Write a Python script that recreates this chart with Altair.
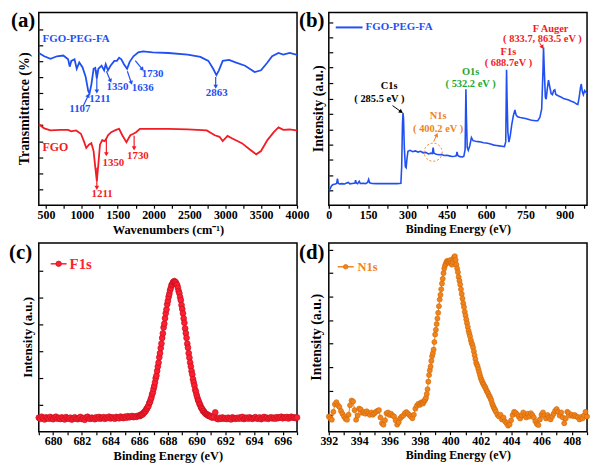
import altair as alt
import pandas as pd

FONT = "Liberation Serif"
BLUE = "#2150f2"
RED_A = "#f21c24"
RED_C = "#ff1f30"
RED_C_EDGE = "#c0101e"
ORANGE = "#f0841a"
ORANGE_EDGE = "#cf660a"
GREEN = "#22a832"

W_L, W_R = 260, 260
H_T, H_B = 194, 190

# ---------------- (a) FTIR ----------------
a_blue_x = [400, 476, 564, 653, 742, 809, 831, 853, 898, 929,
            964, 1009, 1053, 1089, 1107, 1133, 1164, 1187, 1209, 1231,
            1276, 1311, 1333, 1364, 1400, 1453, 1489, 1520, 1551, 1587,
            1631, 1667, 1720, 1787, 1853, 1987, 2209, 2476, 2653, 2764,
            2831, 2876, 2911, 2964, 3053, 3142, 3276, 3409, 3498, 3587,
            3653, 3742, 3809, 3898, 3987, 4000]
a_blue_y = [79.0, 77.3, 76.0, 77.3, 77.7, 75.7, 71.9, 74.9, 75.7, 70.8,
            74.1, 71.6, 66.7, 59.3, 58.0, 62.6, 70.8, 71.3, 65.8, 70.8,
            72.4, 70.0, 73.2, 70.0, 72.4, 74.9, 74.9, 76.5, 75.7, 73.2,
            70.8, 74.4, 77.3, 79.3, 79.8, 79.3, 79.0, 78.2, 77.0, 74.9,
            70.8, 67.5, 70.0, 74.9, 75.4, 74.1, 72.4, 69.1, 70.0, 74.1,
            77.3, 79.0, 78.2, 79.0, 78.2, 78.3]
a_red_x = [400, 476, 564, 698, 809, 853, 920, 987, 1031, 1062,
           1098, 1133, 1164, 1187, 1209, 1231, 1253, 1284, 1320, 1342,
           1364, 1409, 1476, 1520, 1564, 1622, 1676, 1720, 1756, 1809,
           1942, 2209, 2476, 2742, 2853, 2920, 2964, 3031, 3098, 3231,
           3342, 3431, 3498, 3587, 3676, 3742, 3809, 3898, 3987, 4000]
a_red_y = [42.0, 39.9, 38.8, 39.1, 39.1, 38.3, 38.8, 37.1, 33.0, 29.7,
           31.4, 32.2, 28.1, 19.9, 12.5, 21.5, 31.4, 33.8, 33.3, 34.6,
           36.3, 37.9, 39.1, 39.6, 36.3, 32.7, 36.3, 37.1, 37.9, 39.6,
           39.6, 39.6, 39.4, 38.8, 36.3, 35.5, 33.3, 36.0, 34.6, 32.2,
           28.9, 26.4, 28.1, 33.8, 37.9, 40.4, 39.1, 39.3, 38.8, 38.8]

a_blue_lbl = ["1107", "1211", "1350", "1636", "1730", "2863"]
a_blue_lbl_x = [973, 1253, 1497, 1849, 1987, 2880]
a_blue_lbl_y = [49.9, 55.0, 61.2, 60.9, 68.0, 58.0]
a_red_lbl = ["1350", "1730", "1211"]
a_red_lbl_x = [1440, 1782, 1284]
a_red_lbl_y = [22.0, 25.3, 5.6]

a_blue_arr_x1 = [1020, 1209, 1343, 1635, 1745, 2866]
a_blue_arr_y1 = [51.5, 70.0, 69.5, 69.5, 75.0, 66.5]
a_blue_arr_x2 = [1090, 1209, 1400, 1690, 1845, 2866]
a_blue_arr_y2 = [57.0, 59.0, 64.5, 63.5, 70.5, 61.5]
a_blue_arr_ang = [25, 180, 157, 161, 140, 180]
a_red_arr_x1 = [1342, 1729, 1209]
a_red_arr_y1 = [34.5, 36.0, 19.5]
a_red_arr_x2 = [1342, 1729, 1209]
a_red_arr_y2 = [26.5, 29.5, 9.0]
a_red_arr_ang = [180, 180, 180]

a_xticks = [500, 750, 1000, 1250, 1500, 1750, 2000, 2250, 2500, 2750,
            3000, 3250, 3500, 3750, 4000]
a_yticks = [8.3, 16.6, 24.9, 33.2, 41.5, 49.8, 58.1, 66.4, 74.7, 83.0, 91.3]

# ---------------- (b) XPS survey ----------------
b_x = [0, 5, 10, 15, 20, 25, 30, 33, 36, 40,
       50, 60, 70, 75, 80, 90, 100, 102, 105, 110,
       116, 120, 130, 140, 148, 152, 156, 165, 180, 200,
       220, 240, 260, 275, 278, 281, 283, 285, 288, 292,
       295, 298, 302, 310, 320, 330, 340, 350, 360, 370,
       380, 390, 395, 398, 401, 410, 420, 430, 440, 450,
       460, 470, 480, 486, 489, 492, 500, 510, 515, 520,
       523, 525, 528, 532, 538, 544, 550, 560, 570, 580,
       590, 600, 610, 620, 630, 640, 650, 660, 670, 675,
       678, 680, 683, 687, 692, 698, 704, 710, 714, 720,
       730, 740, 750, 760, 770, 780, 790, 797, 805, 812,
       817, 819, 822, 826, 829, 833, 838, 842, 848, 853,
       858, 862, 866, 875, 885, 895, 905, 915, 925, 935,
       945, 950, 955, 960, 963, 967, 971, 976, 980, 985]
b_y = [7.6, 8.5, 10.0, 10.6, 10.9, 11.0, 11.3, 13.8, 11.5, 11.0,
       11.2, 11.0, 11.6, 11.8, 11.1, 11.3, 11.5, 13.0, 11.6, 11.2,
       12.4, 11.3, 11.4, 11.2, 11.8, 13.4, 11.6, 11.3, 11.2, 11.3,
       11.2, 11.3, 11.2, 11.4, 20.0, 42.0, 47.9, 45.0, 30.0, 20.0,
       19.5, 24.0, 28.0, 28.5, 27.8, 28.2, 27.6, 28.0, 27.2, 27.4,
       26.6, 27.0, 26.8, 29.9, 27.0, 26.5, 26.2, 26.3, 25.8, 25.9,
       25.6, 25.3, 25.4, 25.6, 27.7, 25.8, 25.2, 25.0, 25.4, 29.0,
       60.2, 45.0, 30.0, 28.5, 31.0, 35.1, 33.5, 33.2, 33.0, 32.8,
       32.4, 32.3, 32.0, 31.6, 31.2, 31.0, 30.8, 30.6, 30.4, 33.0,
       70.3, 55.0, 38.0, 32.7, 36.0, 42.0, 46.5, 49.5, 47.0, 45.9,
       45.5, 45.3, 45.0, 44.6, 44.2, 44.0, 43.8, 43.9, 45.5, 50.0,
       70.0, 81.8, 70.0, 56.0, 55.0, 60.0, 64.9, 62.0, 58.0, 57.4,
       59.5, 59.9, 57.5, 56.8, 56.2, 55.4, 55.0, 54.6, 54.0, 53.5,
       52.5, 52.3, 56.0, 61.0, 62.9, 59.0, 57.4, 59.5, 58.7, 58.0]

b_black_lbl = ["C1s", "( 285.5 eV )"]
b_black_lbl_x = [230, 193]
b_black_lbl_y = [61.9, 55.0]
b_orange_lbl = ["N1s", "( 400.2 eV )"]
b_orange_lbl_x = [417, 417]
b_orange_lbl_y = [46.4, 39.6]
b_green_lbl = ["O1s", "( 532.2 eV )"]
b_green_lbl_x = [541, 541]
b_green_lbl_y = [69.0, 62.9]
b_red_lbl = ["F1s", "( 688.7eV )", "F Auger", "( 833.7, 863.5 eV )"]
b_red_lbl_x = [685, 685, 846, 815]
b_red_lbl_y = [79.4, 73.6, 91.6, 86.0]

b_arr_x1 = [243, 400, 803]
b_arr_y1 = [51.7, 33.0, 84.5]
b_arr_x2 = [276, 412, 815]
b_arr_y2 = [48.5, 36.5, 82.0]
b_arr_ang = [125, 25, 147]
b_arr_col = ["black", ORANGE, RED_A]
b_circle_x = [398]
b_circle_y = [27.5]

b_xticks = [0, 75, 150, 225, 300, 375, 450, 525, 600, 675, 750, 825, 900, 975]
b_yticks = [7.6, 15.6, 23.6, 31.5, 39.3, 47.3, 55.3, 63.4, 71.5, 79.3, 87.1, 95.0]

# ---------------- (c) F1s ----------------
# baseline before the peak: 679.0 .. 685.9 (0.1 eV steps)
c_y_pre = [7.4, 6.8, 7.9, 7.1, 6.5, 7.6, 7.2, 6.9, 7.8, 7.0,
           6.6, 7.5, 7.9, 6.9, 7.3, 6.7, 7.6, 7.1, 6.5, 7.7,
           7.2, 6.8, 7.4, 6.4, 7.0, 7.6, 6.9, 6.6, 7.3, 7.8,
           6.7, 7.2, 6.3, 7.5, 7.9, 7.0, 6.8, 7.4, 7.1, 6.6,
           7.6, 7.0, 7.8, 6.9, 7.3, 7.7, 6.8, 7.5, 7.2, 7.9,
           7.0, 7.6, 7.3, 6.9, 7.8, 7.4, 7.1, 8.0, 7.5, 7.2,
           7.9, 7.4, 8.2, 7.6, 7.9, 8.3, 7.7, 8.1, 7.8, 8.4]
# peak region: 686.00 .. 691.00 (0.05 eV steps)
c_y_peak = [8.4, 8.3, 9.0, 8.8, 9.2, 9.2, 10.0, 10.1, 10.8, 11.0,
            12.0, 12.3, 13.2, 13.7, 15.2, 15.7, 17.1, 18.1, 19.8, 20.8,
            22.7, 24.2, 26.1, 28.3, 29.7, 32.2, 34.5, 36.6, 39.4, 41.6,
            44.3, 46.7, 49.7, 52.1, 55.2, 57.2, 60.1, 62.7, 64.8, 67.5,
            69.3, 71.4, 73.0, 74.9, 76.1, 77.6, 78.1, 79.1, 79.4, 79.8,
            79.3, 79.1, 78.1, 77.6, 76.2, 74.5, 73.3, 71.3, 69.7, 67.1,
            65.0, 62.7, 60.0, 57.7, 54.7, 52.2, 49.7, 46.6, 44.5, 41.6,
            39.2, 36.6, 34.5, 32.1, 30.3, 27.8, 26.1, 24.4, 22.3, 21.2,
            19.5, 18.2, 16.8, 16.0, 14.8, 14.2, 13.0, 12.4, 11.9, 10.9,
            10.9, 10.1, 9.8, 9.3, 9.3, 8.8, 8.9, 8.3, 8.3, 8.3,
            7.9]
# baseline after the peak: 691.1 .. 697.0 (0.1 eV steps)
c_y_post = [7.4, 7.8, 10.2, 7.0, 6.6, 7.3, 6.8, 7.5, 6.9,
            7.2, 6.7, 7.4, 7.0, 6.5, 7.6, 7.1, 6.8, 7.3, 6.9,
            7.5, 7.0, 7.8, 6.7, 7.2, 7.4, 6.9, 7.6, 7.1, 6.8,
            7.3, 7.7, 6.9, 7.1, 7.5, 6.6, 7.2, 7.8, 7.0, 7.4,
            6.8, 7.3, 7.6, 7.0, 7.4, 6.9, 7.7, 7.2, 7.5, 7.9,
            7.1, 7.6, 7.3, 7.8, 7.0, 7.5, 7.9, 7.4, 7.6, 7.2,
            7.5]
c_xticks = list(range(679, 698))
c_yticks = [14.0, 28.3, 42.6, 56.9, 71.2, 85.5]

# ---------------- (d) N1s ----------------
# 392.0 .. 397.9 (0.1 eV)
d_y_pre = [8.0, 7.0, 6.3, 10.5, 14.5, 15.6, 14.0, 13.1, 11.0, 9.5,
           8.0, 6.8, 6.3, 9.0, 14.0, 16.5, 16.0, 11.4, 6.3, 8.5,
           12.2, 11.8, 10.0, 10.5, 9.5, 10.8, 9.7, 8.9, 10.2, 9.0,
           9.7, 10.5, 11.0, 11.4, 7.5, 4.5, 3.7, 6.0, 9.7, 10.2,
           8.8, 9.5, 8.5, 8.0, 6.0, 3.7, 5.0, 7.1, 8.0, 8.5,
           9.7, 10.4, 9.6, 8.8, 8.0, 7.1, 9.0, 12.2, 13.8, 14.8]
# 398.00 .. 403.00 (0.05 eV)
d_y_peak = [14.2, 15.0, 15.6, 15.3, 14.9, 15.8, 16.5, 17.0, 18.0, 20.0,
            22.5, 26.5, 30.0, 32.5, 34.5, 37.5, 40.0, 41.5, 43.5, 47.5,
            51.5, 54.0, 57.0, 60.0, 63.0, 66.5, 70.0, 72.5, 75.5, 78.5,
            81.0, 84.0, 86.5, 88.0, 89.0, 90.0, 90.5, 90.0, 89.5, 90.2,
            91.0, 89.5, 88.5, 90.0, 91.5, 92.5, 93.0, 91.0, 88.5, 86.5,
            84.5, 82.0, 80.0, 78.0, 75.5, 73.0, 70.5, 68.0, 66.0, 63.5,
            61.6, 59.5, 57.5, 55.5, 53.5, 52.0, 50.5, 48.5, 47.0, 46.0,
            44.6, 42.5, 40.5, 38.5, 36.5, 35.5, 34.5, 33.0, 31.5, 30.0,
            28.5, 27.5, 26.5, 25.5, 25.0, 24.0, 23.5, 22.5, 21.5, 21.0,
            20.0, 19.0, 18.5, 17.5, 16.5, 15.0, 14.0, 13.0, 12.2, 11.5,
            10.5]
# 403.1 .. 409.0 (0.1 eV)
d_y_post = [9.0, 8.0, 9.0, 6.5, 7.5, 5.5, 4.5, 3.2, 3.8,
            6.0, 8.8, 10.5, 10.0, 9.2, 8.0, 7.0, 8.5, 10.2, 8.5,
            7.5, 9.5, 8.0, 9.8, 8.8, 7.5, 5.5, 4.0, 3.5, 6.5,
            9.0, 10.2, 8.5, 7.0, 8.8, 7.5, 6.5, 8.0, 9.5, 11.0,
            12.0, 10.5, 8.5, 10.2, 7.5, 4.5, 7.0, 10.5, 9.8, 8.5,
            9.0, 8.2, 8.8, 8.0, 7.6, 6.5, 7.8, 7.0, 8.5, 10.5,
            8.0]
d_xticks = list(range(392, 410))
d_yticks = [9.2, 21.6, 34.4, 46.6, 59.0, 71.8, 84.0, 96.4]


def grid(start, step, n):
    return [round(start + step * i, 2) for i in range(n)]


# ================= helpers =================
one = pd.DataFrame({"d": [0]})


def enc_x(dom, ticks, mod, title, tsize=12.5):
    return alt.X("x:Q", scale=alt.Scale(domain=dom, nice=False, zero=False),
                 axis=alt.Axis(values=ticks,
                               labelExpr=f"datum.value % {mod} == 0 ? datum.label : ''",
                               format="d", title=title, tickSize=3, tickWidth=1.2,
                               tickColor="black", domain=False, grid=False,
                               labelFont=FONT, labelFontWeight="bold", labelFontSize=12,
                               labelColor="black", labelPadding=1, labelOverlap=False,
                               labelFlush=False, titleFont=FONT, titleFontWeight="bold",
                               titleFontSize=tsize, titleColor="black", titlePadding=3))


def enc_y(ticks):
    return alt.Y("y:Q", scale=alt.Scale(domain=[0, 100], nice=False, zero=False),
                 axis=alt.Axis(values=ticks, labels=False, title=None, domain=False,
                               grid=False, tickSize=4, tickWidth=1.2, tickColor="black",
                               offset=-4))


def ptext(txt, x, y, size, color="black", align="left", baseline="top", angle=None):
    kw = dict(font=FONT, fontWeight="bold", fontSize=size, color=color,
              align=align, baseline=baseline)
    if angle is not None:
        kw["angle"] = angle
    return alt.Chart(one).mark_text(**kw).encode(
        x=alt.value(x), y=alt.value(y), text=alt.value(txt))


def dtext(xs, ys, ts, X, Y, size, color, align="center"):
    df = pd.DataFrame({"x": xs, "y": ys, "t": ts})
    return alt.Chart(df).mark_text(font=FONT, fontWeight="bold", fontSize=size,
                                   color=color, align=align, baseline="middle").encode(
        x=X, y=Y, text="t:N")


def arrows(x1, y1, x2, y2, ang, X, Y, color, width=1.2):
    df = pd.DataFrame({"x": x1, "y": y1, "x2": x2, "y2": y2})
    hd = pd.DataFrame({"x": x2, "y": y2, "a": ang})
    r = alt.Chart(df).mark_rule(color=color, strokeWidth=width).encode(
        x=X, y=Y, x2="x2:Q", y2="y2:Q")
    h = alt.Chart(hd).mark_point(shape="triangle-up", filled=True, size=22,
                                 color=color, opacity=1).encode(
        x=X, y=Y, angle=alt.Angle("a:Q", scale=None))
    return [r, h]


# ================= panel (a) =================
Xa = enc_x([400, 4000], a_xticks, 500, "Wavenumbers (cm\u207b\u00b9)")
Ya = enc_y(a_yticks)
la = [
    alt.Chart(pd.DataFrame({"x": a_blue_x, "y": a_blue_y})).mark_line(
        color=BLUE, strokeWidth=1.8).encode(x=Xa, y=Ya),
    alt.Chart(pd.DataFrame({"x": a_red_x, "y": a_red_y})).mark_line(
        color=RED_A, strokeWidth=1.8).encode(x=Xa, y=Ya),
    dtext(a_blue_lbl_x, a_blue_lbl_y, a_blue_lbl, Xa, Ya, 11, BLUE),
    dtext(a_red_lbl_x, a_red_lbl_y, a_red_lbl, Xa, Ya, 11, RED_A),
    dtext([453], [86.0], ["FGO-PEG-FA"], Xa, Ya, 11, BLUE, align="left"),
    dtext([453], [30.0], ["FGO"], Xa, Ya, 12, RED_A, align="left"),
]
la += arrows(a_blue_arr_x1, a_blue_arr_y1, a_blue_arr_x2, a_blue_arr_y2, a_blue_arr_ang, Xa, Ya, BLUE)
la += arrows(a_red_arr_x1, a_red_arr_y1, a_red_arr_x2, a_red_arr_y2, a_red_arr_ang, Xa, Ya, RED_A)
la += [ptext("(a)", -28, -2, 21),
       ptext("Transmittance (%)", -14, H_T / 2, 14, align="center", baseline="middle", angle=270)]
pa = alt.layer(*la).properties(width=W_L, height=H_T)

# ================= panel (b) =================
Xb = enc_x([0, 985], b_xticks, 150, "Binding Energy (eV)", 12)
Yb = enc_y(b_yticks)
lb = [
    alt.Chart(pd.DataFrame({"x": b_x, "y": b_y})).mark_line(
        color=BLUE, strokeWidth=1.6).encode(x=Xb, y=Yb),
    dtext(b_black_lbl_x, b_black_lbl_y, b_black_lbl, Xb, Yb, 10.5, "black"),
    dtext(b_orange_lbl_x, b_orange_lbl_y, b_orange_lbl, Xb, Yb, 10.5, ORANGE),
    dtext(b_green_lbl_x, b_green_lbl_y, b_green_lbl, Xb, Yb, 10.5, GREEN),
    dtext(b_red_lbl_x, b_red_lbl_y, b_red_lbl, Xb, Yb, 10.5, RED_A),
    alt.Chart(pd.DataFrame({"x": b_circle_x, "y": b_circle_y})).mark_point(
        shape="circle", filled=False, size=330, color=ORANGE, strokeWidth=1,
        strokeDash=[2, 2], opacity=1).encode(x=Xb, y=Yb),
]
for i in range(3):
    lb += arrows([b_arr_x1[i]], [b_arr_y1[i]], [b_arr_x2[i]], [b_arr_y2[i]], [b_arr_ang[i]],
                 Xb, Yb, b_arr_col[i], width=1)
lb += [
    alt.Chart(one).mark_rule(color=BLUE, strokeWidth=2).encode(
        x=alt.value(7), x2=alt.value(34), y=alt.value(15)),
    ptext("FGO-PEG-FA", 37, 15, 11, color=BLUE, baseline="middle"),
    ptext("(b)", -30, -2, 21),
    ptext("Intensity (a.u.)", -10, H_T / 2, 14, align="center", baseline="middle", angle=270),
]
pb = alt.layer(*lb).properties(width=W_R, height=H_T)

# ================= panel (c) =================
c_x = grid(679.0, 0.1, len(c_y_pre)) + grid(686.0, 0.05, len(c_y_peak)) + grid(691.1, 0.1, len(c_y_post))
c_y = c_y_pre + c_y_peak + c_y_post
Xc = enc_x([679, 697], c_xticks, 2, "Binding Energy (eV)", 12.5)
Yc = enc_y(c_yticks)
dfc = pd.DataFrame({"x": c_x, "y": c_y})
lc = [
    alt.Chart(dfc).mark_line(color=RED_C, strokeWidth=1).encode(x=Xc, y=Yc),
    alt.Chart(dfc).mark_point(shape="circle", filled=True, size=34, fill=RED_C,
                              stroke=RED_C_EDGE, strokeWidth=0.7, opacity=1).encode(x=Xc, y=Yc),
    alt.Chart(one).mark_rule(color=RED_C, strokeWidth=1.5).encode(
        x=alt.value(12), x2=alt.value(28), y=alt.value(21)),
    alt.Chart(one).mark_point(shape="circle", filled=True, size=30, fill=RED_C,
                              stroke=RED_C_EDGE, strokeWidth=0.7, opacity=1).encode(
        x=alt.value(20), y=alt.value(21)),
    ptext("F1s", 31, 21, 15, color=RED_C, baseline="middle"),
    ptext("(c)", -30, -1, 21),
    ptext("Intensity (a.u.)", -11, H_B / 2, 13, align="center", baseline="middle", angle=270),
]
pc = alt.layer(*lc).properties(width=W_L, height=H_B)

# ================= panel (d) =================
d_x = grid(392.0, 0.1, len(d_y_pre)) + grid(398.0, 0.05, len(d_y_peak)) + grid(403.1, 0.1, len(d_y_post))
d_y = d_y_pre + d_y_peak + d_y_post
Xd = enc_x([392, 409], d_xticks, 2, "Binding Energy (eV)", 12)
Yd = enc_y(d_yticks)
dfd = pd.DataFrame({"x": d_x, "y": d_y})
ld = [
    alt.Chart(dfd).mark_line(color=ORANGE, strokeWidth=1).encode(x=Xd, y=Yd),
    alt.Chart(dfd).mark_point(shape="circle", filled=True, size=26, fill=ORANGE,
                              stroke=ORANGE_EDGE, strokeWidth=0.6, opacity=1).encode(x=Xd, y=Yd),
    alt.Chart(one).mark_rule(color=ORANGE, strokeWidth=1.5).encode(
        x=alt.value(9), x2=alt.value(25), y=alt.value(24)),
    alt.Chart(one).mark_point(shape="circle", filled=True, size=22, fill=ORANGE,
                              stroke=ORANGE_EDGE, strokeWidth=0.6, opacity=1).encode(
        x=alt.value(17), y=alt.value(24)),
    ptext("N1s", 29, 24, 12.5, color=ORANGE, baseline="middle"),
    ptext("(d)", -30, -1, 21),
    ptext("Intensity (a.u.)", -12, H_B / 2, 14, align="center", baseline="middle", angle=270),
]
pd_ = alt.layer(*ld).properties(width=W_R, height=H_B)

chart = alt.concat(pa, pb, pc, pd_, columns=2, bounds="flush",
                   spacing=alt.RowColnumber(row=38, column=32), padding=0).configure_view(
    stroke="black", strokeWidth=1.5)

chart.save("out.html", embed_options={"renderer": "svg", "actions": False})
